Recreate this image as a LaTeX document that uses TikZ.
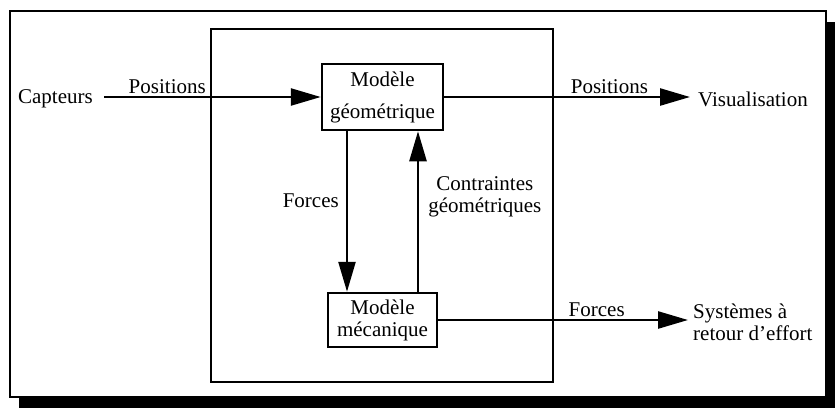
\documentclass[tikz,border=0pt]{standalone}
\usepackage{fontspec}
\setmainfont{Liberation Serif}
\usetikzlibrary{arrows.meta,positioning,shadows}

\begin{document}
\begin{tikzpicture}[x=1pt, y=-1pt, >={Triangle[length=30pt,width=17pt]},
  every node/.style={font=\fontsize{21}{22}\selectfont},
  modbox/.style={draw, line width=2.5pt, align=center, inner sep=2pt},
  flow/.style={->, line width=2.5pt},
  lbl/.style={inner sep=2pt, align=center}]
\useasboundingbox (0,0) rectangle (835,408);
\node[draw, fill=white, line width=2.5pt, minimum width=816, minimum height=386,
  drop shadow={shadow xshift=9pt, shadow yshift=-11pt, fill=black, opacity=1}] (frame) at (418,204) {};
\node[draw, line width=2.2pt, minimum width=342, minimum height=353] (core) at (382,205.5) {};
\node[modbox, minimum width=121, minimum height=66] (geo) at (382.5,97) {Modèle\\[10pt]géométrique};
\node[modbox, minimum width=109, minimum height=54] (meca) at (382.5,320) {Modèle\\mécanique};
\node[lbl, anchor=east] (capt) at (95,99) {Capteurs};
\node[lbl, anchor=west] (visu) at (696,99) {Visualisation};
\node[lbl, anchor=west, align=left] (haptic) at (691,322) {Systèmes à\\retour d’effort};
% flux entre les blocs
\draw[flow, shorten <=9pt] (capt.east |- geo.west) -- (geo.west)
  node[lbl, pos=0.32, above] {Positions};
\draw[flow, shorten >=6pt] (geo.east) -- (geo.east -| visu.west)
  node[lbl, pos=0.656, above] {Positions};
\draw[flow, shorten >=3pt] (meca.east) -- (meca.east -| haptic.west)
  node[lbl, pos=0.627, above] {Forces};
\draw[flow] ([xshift=-35.5pt]geo.south) -- ([xshift=-35.5pt]meca.north)
  node[lbl, pos=0.43, left, xshift=-5pt] {Forces};
\draw[flow] ([xshift=35.5pt]meca.north) -- ([xshift=35.5pt]geo.south)
  node[lbl, pos=0.59, right, xshift=7pt] {Contraintes\\géométriques};
\end{tikzpicture}
\end{document}
